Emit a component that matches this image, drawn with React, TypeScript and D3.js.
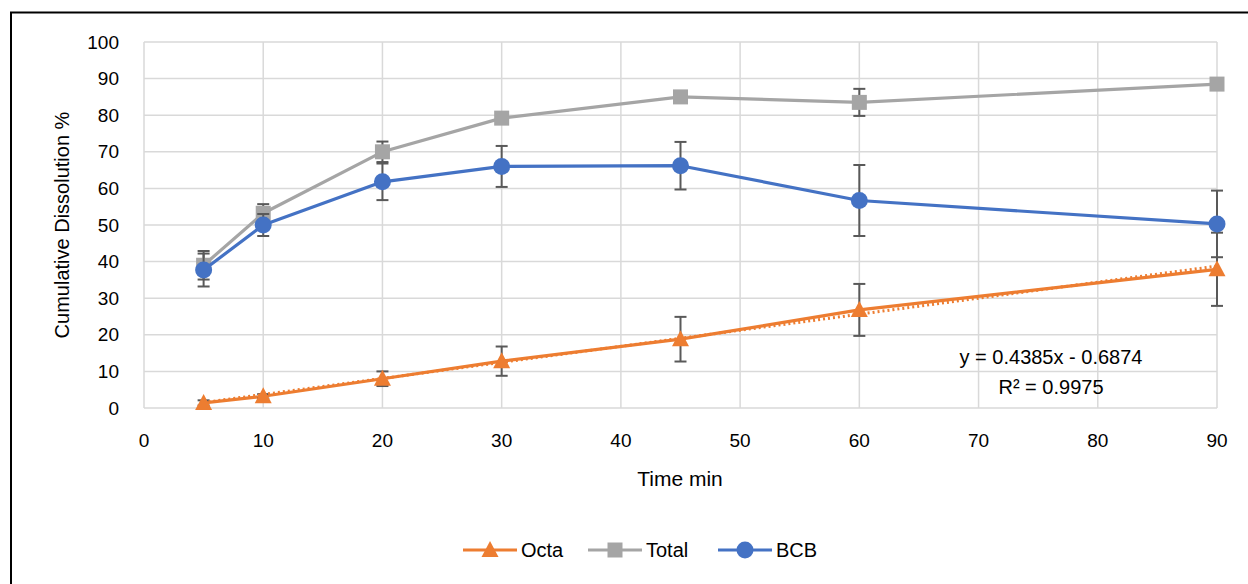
import React from 'react';
import * as d3 from 'd3';

const times = [5, 10, 20, 30, 45, 60, 90];
const octa = [1.4, 3.2, 8.0, 12.8, 18.8, 26.8, 37.9];
const octaErr = [0.7, 0.6, 2.0, 4.0, 6.1, 7.1, 10.0];
const total = [39.0, 53.2, 70.0, 79.2, 85.0, 83.5, 88.5];
const totalErr = [3.9, 2.5, 2.8, 0.5, 0.5, 3.7, 0.5];
const bcb = [37.7, 50.0, 61.8, 66.0, 66.2, 56.7, 50.3];
const bcbErr = [4.5, 3.0, 5.0, 5.6, 6.5, 9.7, 9.1];
const xTicks = [0, 10, 20, 30, 40, 50, 60, 70, 80, 90];
const yTicks = [0, 10, 20, 30, 40, 50, 60, 70, 80, 90, 100];
const trendSlope = 0.4385;
const trendIntercept = -0.6874;

const W = 1248, H = 584;
const font = '"Liberation Sans", Arial, sans-serif';

type Series = { name: string; values: number[]; err: number[]; color: string; marker: string };
const series: Series[] = [
    { name: 'Octa', values: octa, err: octaErr, color: '#ED7D31', marker: 'triangle' },
    { name: 'Total', values: total, err: totalErr, color: '#A5A5A5', marker: 'square' },
    { name: 'BCB', values: bcb, err: bcbErr, color: '#4472C4', marker: 'circle' },
];

const Marker = ({ type, x, y, color }: { type: string; x: number; y: number; color: string }) => {
    if (type === 'circle') return <circle cx={x} cy={y} r={8.5} fill={color} />;
    if (type === 'square') return <rect x={x - 7.5} y={y - 7.5} width={15} height={15} fill={color} />;
    return <path d={`M${x},${y - 9} L${x + 8.5},${y + 7} L${x - 8.5},${y + 7} Z`} fill={color} />;
};

const App = () => {
    const x = d3.scaleLinear().domain([0, 90]).range([144, 1217]);
    const y = d3.scaleLinear().domain([0, 100]).range([408, 42]);

    const line = d3.line<number>()
        .x((_, i) => x(times[i]))
        .y(d => y(d));

    const trendX = [times[0], times[times.length - 1]];
    const trendLine = d3.line<number>()
        .x(d => x(d))
        .y(d => y(trendSlope * d + trendIntercept));

    const legendItems = [
        { s: series[0], x0: 463 },
        { s: series[1], x0: 588 },
        { s: series[2], x0: 718 },
    ];

    return (
        <div style={{ position: 'absolute', left: 0, top: 0 }}>
            <svg width={W} height={H} style={{ display: 'block', background: '#fff' }}>
                {/* chart border */}
                <rect x={11} y={12.5} width={W + 20} height={H + 20} fill="none" stroke="#000" strokeWidth={2} />

                {/* grid */}
                <g stroke="#D9D9D9" strokeWidth={1.5}>
                    {yTicks.map(t => (
                        <line key={'gy' + t} x1={x(0)} x2={x(90)} y1={y(t)} y2={y(t)} />
                    ))}
                    {xTicks.map(t => (
                        <line key={'gx' + t} x1={x(t)} x2={x(t)} y1={y(0)} y2={y(100)} />
                    ))}
                </g>

                {/* y tick labels */}
                <g fontFamily={font} fontSize={19} fill="#000" textAnchor="end">
                    {yTicks.map(t => (
                        <text key={'ty' + t} x={119} y={y(t)} dy="0.35em">{t}</text>
                    ))}
                </g>
                {/* x tick labels */}
                <g fontFamily={font} fontSize={19} fill="#000" textAnchor="middle">
                    {xTicks.map(t => (
                        <text key={'tx' + t} x={x(t)} y={440} dy="0.35em">{t}</text>
                    ))}
                </g>

                {/* axis titles */}
                <text x={680} y={479} dy="0.35em" textAnchor="middle" fontFamily={font} fontSize={21}>Time min</text>
                <text transform={`translate(62,${y(50)}) rotate(-90)`} dy="0.35em" textAnchor="middle"
                    fontFamily={font} fontSize={20}>Cumulative Dissolution %</text>

                {/* series */}
                {series.map(s => (
                    <g key={s.name}>
                        <path d={line(s.values) || ''} fill="none" stroke={s.color} strokeWidth={3.2} strokeLinejoin="round" />
                        <g stroke="#595959" strokeWidth={2}>
                            {s.values.map((v, i) => {
                                const cx = x(times[i]);
                                const y1 = y(v + s.err[i]);
                                const y2 = y(v - s.err[i]);
                                return (
                                    <g key={i}>
                                        <line x1={cx} x2={cx} y1={y1} y2={y2} />
                                        <line x1={cx - 6} x2={cx + 6} y1={y1} y2={y1} />
                                        <line x1={cx - 6} x2={cx + 6} y1={y2} y2={y2} />
                                    </g>
                                );
                            })}
                        </g>
                        {s.name === 'Octa' && (
                            <path d={trendLine(trendX) || ''} fill="none" stroke="#ED7D31" strokeWidth={3}
                                strokeDasharray="2 3" />
                        )}
                        {s.values.map((v, i) => (
                            <Marker key={i} type={s.marker} x={x(times[i])} y={y(v)} color={s.color} />
                        ))}
                    </g>
                ))}

                {/* trendline label */}
                <g fontFamily={font} fontSize={20} fill="#000" textAnchor="middle">
                    <text x={1051} y={357} dy="0.35em">y = 0.4385x - 0.6874</text>
                    <text x={1051} y={387} dy="0.35em">R² = 0.9975</text>
                </g>

                {/* legend */}
                <g fontFamily={font} fontSize={20}>
                    {legendItems.map(({ s, x0 }) => (
                        <g key={s.name}>
                            <line x1={x0} x2={x0 + 54} y1={550} y2={550} stroke={s.color} strokeWidth={3.2} />
                            <Marker type={s.marker} x={x0 + 27} y={550} color={s.color} />
                            <text x={x0 + 58} y={550} dy="0.35em">{s.name}</text>
                        </g>
                    ))}
                </g>
            </svg>
        </div>
    );
};

export default App;
